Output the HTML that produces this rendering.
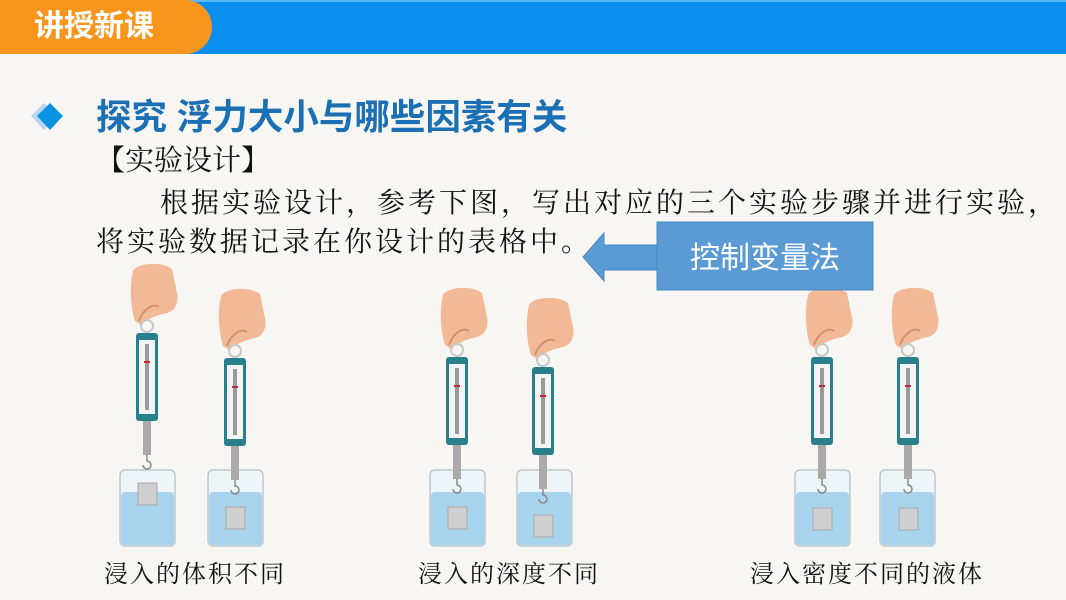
<!DOCTYPE html>
<html><head><meta charset="utf-8"><style>
body{margin:0;width:1066px;height:600px;overflow:hidden;background:#f7f6f2;position:relative;font-family:"Liberation Sans","Noto Sans CJK SC",sans-serif}
.t{position:absolute;white-space:nowrap}
.s{font-family:'Liberation Serif','Noto Serif CJK SC',serif;color:#111}
</style></head><body>
<div style="position:absolute;left:0;top:0;width:1066px;height:54px;background:#0a8ff0"></div>
<div style="position:absolute;left:0;top:0;width:1066px;height:2px;background:#5ab8f5"></div>
<div style="position:absolute;left:0;top:0;width:212px;height:54px;background:#f7951c;border-radius:0 27px 27px 0"></div>
<div class="t" style="left:34px;top:8px;font-size:30px;color:#fff;font-weight:bold;line-height:38px">讲授新课</div>
<svg style="position:absolute;left:30px;top:100px" width="40" height="34"><polygon points="14,3 27,16 14,30 1,16" fill="#bcd6ef"/><polygon points="20,3 33,16 20,30 7,16" fill="#0b93e3"/></svg>
<div class="t" style="left:96px;top:95px;font-size:35.5px;font-weight:bold;color:#1a6fb5;line-height:44px">探究 浮力大小与哪些因素有关</div>
<div class="t s" style="left:96px;top:143px;font-size:29px;line-height:36px">【实验设计】</div>
<div class="t s" style="left:160px;top:186px;font-size:28px;letter-spacing:3px;line-height:36px">根据实验设计，参考下图，写出对应的三个实验步骤并进行实验，</div>
<div class="t s" style="left:96px;top:225px;font-size:28px;letter-spacing:3px;line-height:36px">将实验数据记录在你设计的表格中。</div>
<svg style="position:absolute;left:0;top:0" width="1066" height="600">
<defs>
<g id="hs">
 <path d="M-14,-62 C-10,-70 15,-72 25,-64 L30,-40 C32,-30 28,-22 20,-20 C10,-18 0,-14 -6,-8 L-12,-12 C-16,-25 -18,-45 -14,-62Z" fill="#f2b997"/>
 <path d="M-8,-12 C-4,-24 6,-30 12,-26" stroke="#d4906c" stroke-width="2" fill="none"/>
 <circle cx="0" cy="-7" r="6" fill="none" stroke="#c8c8c8" stroke-width="2"/>
 <rect x="-11" y="0" width="22" height="88" rx="3" fill="#2a7f8c"/>
 <rect x="-8" y="7" width="16" height="74" fill="#f4f4f4"/>
 <rect x="-2" y="11" width="4" height="66" fill="#999"/>
 <rect x="-3" y="28" width="6" height="2" fill="#c0282d"/>
 <rect x="-4" y="88" width="8" height="34" fill="#aaa"/>
 <path d="M0,122 v6 a4,4 0 1 1 -4,4" stroke="#888" stroke-width="1.5" fill="none"/>
</g>
<g id="bk">
 <rect x="0" y="0" width="55" height="76" rx="5" fill="#eef5f8" stroke="#b9c9cf" stroke-width="1.5"/>
 <rect x="1" y="22" width="53" height="53" rx="4" fill="#a7d3ec"/>
</g>
</defs>
<use href="#bk" x="120" y="470"/><use href="#bk" x="208" y="470"/>
<use href="#bk" x="430" y="470"/><use href="#bk" x="517" y="470"/>
<use href="#bk" x="795" y="470"/><use href="#bk" x="880" y="470"/>
<use href="#hs" x="147" y="333"/><use href="#hs" x="235" y="358"/>
<use href="#hs" x="457" y="357"/><use href="#hs" x="543" y="367"/>
<use href="#hs" x="822" y="357"/><use href="#hs" x="908" y="357"/>
<g fill="#cfcfcf" stroke="#aaa">
<rect x="138" y="483" width="19" height="22"/><rect x="226" y="507" width="19" height="22"/>
<rect x="448" y="507" width="19" height="22"/><rect x="534" y="515" width="19" height="22"/>
<rect x="813" y="508" width="19" height="22"/><rect x="899" y="508" width="19" height="22"/>
</g>
<polygon points="583,257 604,233 604,245 657,245 657,270 604,270 604,281" fill="#5b9bd5" stroke="#4a86bd"/>
<rect x="657" y="222" width="216" height="68" fill="#5b9bd5" stroke="#4a86bd"/>
<text x="765" y="268" text-anchor="middle" font-size="30" fill="#fff" font-family="Liberation Sans,Noto Sans CJK SC,sans-serif">控制变量法</text>
</svg>
<div class="t s" style="left:104px;top:554px;font-size:24px;letter-spacing:2px">浸入的体积不同</div>
<div class="t s" style="left:418px;top:554px;font-size:24px;letter-spacing:2px">浸入的深度不同</div>
<div class="t s" style="left:750px;top:554px;font-size:24px;letter-spacing:2px">浸入密度不同的液体</div>
</body></html>
